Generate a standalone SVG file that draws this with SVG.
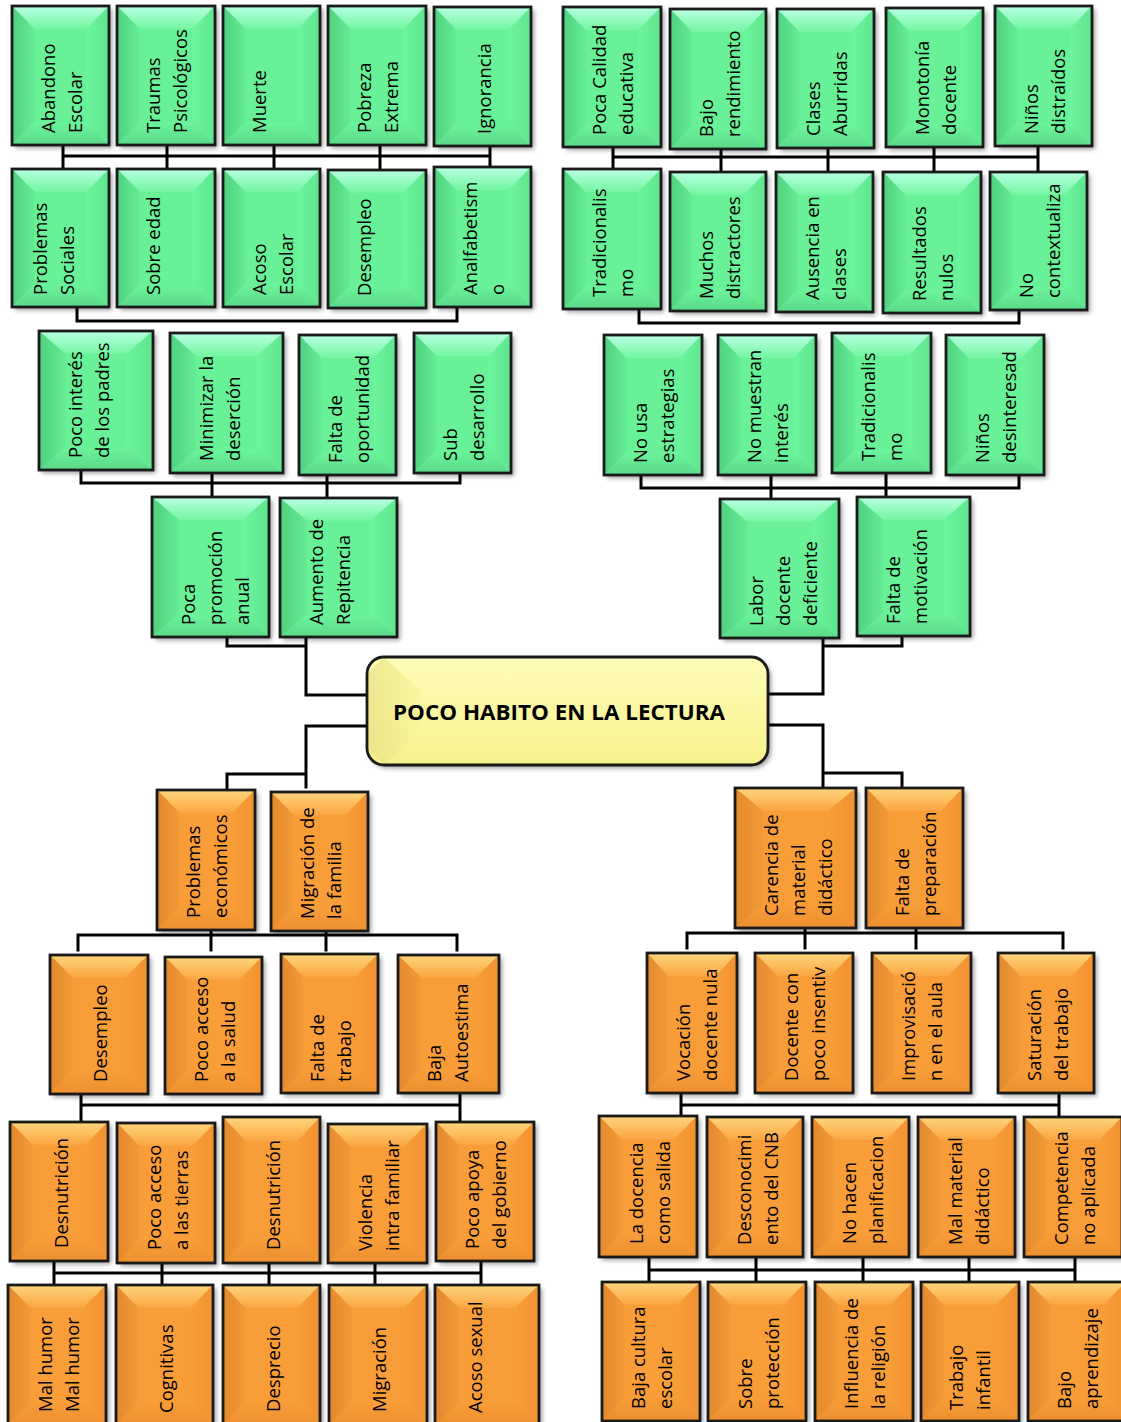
<svg xmlns="http://www.w3.org/2000/svg" xmlns:xlink="http://www.w3.org/1999/xlink" width="1121" height="1422" viewBox="0 0 1121 1422">
<defs>
<style>
.b{fill:none;stroke:#1a1a1a;stroke-width:2.8}
.t{font-family:"Open Sans","Liberation Sans",sans-serif;font-size:18.5px;fill:#000}
.c path{fill:none;stroke:#000;stroke-width:3;stroke-linecap:square}
.title{font-family:"Open Sans","Liberation Sans",sans-serif;font-size:21.5px;font-weight:bold;fill:#000}
</style>
<filter id="sh" x="-10%" y="-10%" width="130%" height="130%">
<feGaussianBlur in="SourceAlpha" stdDeviation="2.5"/>
<feOffset dx="3" dy="3" result="o"/>
<feComponentTransfer><feFuncA type="linear" slope="0.4"/></feComponentTransfer>
<feMerge><feMergeNode/><feMergeNode in="SourceGraphic"/></feMerge>
</filter>
<linearGradient id="gT" x1="0" y1="0" x2="0" y2="1"><stop offset="0" stop-color="#b8ffe2"/><stop offset="1" stop-color="#74f6a2"/></linearGradient>
<linearGradient id="gL" x1="0" y1="0" x2="1" y2="0"><stop offset="0" stop-color="#4fd07f"/><stop offset="1" stop-color="#64ec94"/></linearGradient>
<linearGradient id="gR" x1="0" y1="0" x2="1" y2="0"><stop offset="0" stop-color="#6cf59c"/><stop offset="1" stop-color="#5fe58e"/></linearGradient>
<linearGradient id="gB" x1="0" y1="0" x2="0" y2="1"><stop offset="0" stop-color="#6cf49b"/><stop offset="1" stop-color="#5ad989"/></linearGradient>
<linearGradient id="oT" x1="0" y1="0" x2="0" y2="1"><stop offset="0" stop-color="#ffd67c"/><stop offset="1" stop-color="#fba543"/></linearGradient>
<linearGradient id="oL" x1="0" y1="0" x2="1" y2="0"><stop offset="0" stop-color="#e2892d"/><stop offset="1" stop-color="#f39937"/></linearGradient>
<linearGradient id="oR" x1="0" y1="0" x2="1" y2="0"><stop offset="0" stop-color="#f99d38"/><stop offset="1" stop-color="#f0922f"/></linearGradient>
<linearGradient id="oB" x1="0" y1="0" x2="0" y2="1"><stop offset="0" stop-color="#f99d39"/><stop offset="1" stop-color="#ec8f2e"/></linearGradient>
<linearGradient id="yM" x1="0" y1="0" x2="0" y2="1"><stop offset="0" stop-color="#fffdb8"/><stop offset="1" stop-color="#f6f18c"/></linearGradient>
<linearGradient id="yL" x1="0" y1="0" x2="1" y2="0"><stop offset="0" stop-color="#e6e085"/><stop offset="1" stop-color="#f8f499"/></linearGradient>
<symbol id="gb" viewBox="0 0 100 140" preserveAspectRatio="none">
<rect width="100" height="140" fill="#68f197"/>
<polygon points="0,0 100,0 77,23 23,23" fill="url(#gT)"/>
<polygon points="0,0 23,23 23,117 0,140" fill="url(#gL)"/>
<polygon points="100,0 100,140 77,117 77,23" fill="url(#gR)"/>
<polygon points="0,140 100,140 77,117 23,117" fill="url(#gB)"/>
</symbol>
<symbol id="ob" viewBox="0 0 100 140" preserveAspectRatio="none">
<rect width="100" height="140" fill="#f99d38"/>
<polygon points="0,0 100,0 77,23 23,23" fill="url(#oT)"/>
<polygon points="0,0 23,23 23,117 0,140" fill="url(#oL)"/>
<polygon points="100,0 100,140 77,117 77,23" fill="url(#oR)"/>
<polygon points="0,140 100,140 77,117 23,117" fill="url(#oB)"/>
</symbol>
</defs>
<rect width="1121" height="1422" fill="#fff"/>

<g id="connectors" class="c">
<path d="M63,145V169M167,145V169M274,145V169M380,145V170M490,146V166M63,156H490"/>
<path d="M77,307V321H457V307"/>
<path d="M81,470V483H460V473M212,473V497M327,475V498"/>
<path d="M227,637V646H306M306,637V695H368"/>
<path d="M368,726H306V787M306,774H227V790"/>
<path d="M613,147V169M721,149V172M828,148V172M934,147V172M1038,146V172M613,157H1038"/>
<path d="M639,309V323H1019V310"/>
<path d="M641,475V488H1019V475M771,475V499M886,473V497"/>
<path d="M902,636V646H823M823,638V694H768"/>
<path d="M768,725H823V788M823,773H902V788"/>
<path d="M78,950V935H457V950M211,930V950M326,931V950"/>
<path d="M81,1094V1121M460,1093V1121M81,1105H460"/>
<path d="M54,1261V1285M162,1263V1285M269,1263V1285M375,1263V1285M481,1261V1285M54,1273H481"/>
<path d="M687,948V933H1063V948M805,928V948M916,928V948"/>
<path d="M681,1093V1115M1059,1093V1115M681,1105H1059"/>
<path d="M649,1257V1281M756,1257V1281M863,1257V1281M969,1257V1281M1075,1257V1281M649,1270H1075"/>
</g>

<g id="center">
<rect x="367" y="657" width="401" height="108" rx="17" fill="url(#yM)" filter="url(#sh)"/>
<path d="M384,657 L420,690 L420,732 L384,765 L367,748 L367,674 Z" fill="url(#yL)" opacity="0.7"/>
<rect x="367" y="657" width="401" height="108" rx="17" class="b"/>
<text class="title" x="393" y="720" textLength="332" lengthAdjust="spacingAndGlyphs">POCO HABITO EN LA LECTURA</text>
</g>

<g id="tl-abandono"><use href="#gb" x="12" y="6" width="97" height="139" filter="url(#sh)"/><rect x="12" y="6" width="97" height="139" class="b"/><text class="t" transform="translate(55,133) rotate(-90)"><tspan x="0" y="0">Abandono</tspan><tspan x="0" y="27">Escolar</tspan></text></g>
<g id="tl-traumas"><use href="#gb" x="117" y="6" width="98" height="139" filter="url(#sh)"/><rect x="117" y="6" width="98" height="139" class="b"/><text class="t" transform="translate(160,133) rotate(-90)"><tspan x="0" y="0">Traumas</tspan><tspan x="0" y="27">Psicológicos</tspan></text></g>
<g id="tl-muerte"><use href="#gb" x="223" y="6" width="97" height="139" filter="url(#sh)"/><rect x="223" y="6" width="97" height="139" class="b"/><text class="t" transform="translate(266,133) rotate(-90)">Muerte</text></g>
<g id="tl-pobreza"><use href="#gb" x="328" y="6" width="98" height="139" filter="url(#sh)"/><rect x="328" y="6" width="98" height="139" class="b"/><text class="t" transform="translate(371,133) rotate(-90)"><tspan x="0" y="0">Pobreza</tspan><tspan x="0" y="27">Extrema</tspan></text></g>
<g id="tl-ignorancia"><use href="#gb" x="434" y="7" width="97" height="139" filter="url(#sh)"/><rect x="434" y="7" width="97" height="139" class="b"/><text class="t" transform="translate(491,134) rotate(-90)">Ignorancia</text></g>
<g id="tl-problemas"><use href="#gb" x="12" y="169" width="97" height="138" filter="url(#sh)"/><rect x="12" y="169" width="97" height="138" class="b"/><text class="t" transform="translate(47,295) rotate(-90)"><tspan x="0" y="0">Problemas</tspan><tspan x="0" y="27">Sociales</tspan></text></g>
<g id="tl-sobreedad"><use href="#gb" x="117" y="169" width="98" height="138" filter="url(#sh)"/><rect x="117" y="169" width="98" height="138" class="b"/><text class="t" transform="translate(160,295) rotate(-90)">Sobre edad</text></g>
<g id="tl-acoso"><use href="#gb" x="223" y="169" width="97" height="138" filter="url(#sh)"/><rect x="223" y="169" width="97" height="138" class="b"/><text class="t" transform="translate(266,295) rotate(-90)"><tspan x="0" y="0">Acoso</tspan><tspan x="0" y="27">Escolar</tspan></text></g>
<g id="tl-desempleo"><use href="#gb" x="328" y="170" width="98" height="138" filter="url(#sh)"/><rect x="328" y="170" width="98" height="138" class="b"/><text class="t" transform="translate(371,296) rotate(-90)">Desempleo</text></g>
<g id="tl-analfabetismo"><use href="#gb" x="434" y="167" width="97" height="140" filter="url(#sh)"/><rect x="434" y="167" width="97" height="140" class="b"/><text class="t" transform="translate(477,295) rotate(-90)"><tspan x="0" y="0">Analfabetism</tspan><tspan x="0" y="27">o</tspan></text></g>
<g id="tl-pocointeres"><use href="#gb" x="39" y="331" width="114" height="139" filter="url(#sh)"/><rect x="39" y="331" width="114" height="139" class="b"/><text class="t" transform="translate(82,458) rotate(-90)"><tspan x="0" y="0">Poco interés</tspan><tspan x="0" y="27">de los padres</tspan></text></g>
<g id="tl-minimizar"><use href="#gb" x="170" y="333" width="113" height="140" filter="url(#sh)"/><rect x="170" y="333" width="113" height="140" class="b"/><text class="t" transform="translate(213,461) rotate(-90)"><tspan x="0" y="0">Minimizar la</tspan><tspan x="0" y="27">deserción</tspan></text></g>
<g id="tl-faltaoport"><use href="#gb" x="299" y="335" width="97" height="140" filter="url(#sh)"/><rect x="299" y="335" width="97" height="140" class="b"/><text class="t" transform="translate(342,463) rotate(-90)"><tspan x="0" y="0">Falta de</tspan><tspan x="0" y="27">oportunidad</tspan></text></g>
<g id="tl-subdesarrollo"><use href="#gb" x="414" y="333" width="97" height="140" filter="url(#sh)"/><rect x="414" y="333" width="97" height="140" class="b"/><text class="t" transform="translate(457,461) rotate(-90)"><tspan x="0" y="0">Sub</tspan><tspan x="0" y="27">desarrollo</tspan></text></g>
<g id="tl-pocapromocion"><use href="#gb" x="152" y="497" width="117" height="140" filter="url(#sh)"/><rect x="152" y="497" width="117" height="140" class="b"/><text class="t" transform="translate(195,625) rotate(-90)"><tspan x="0" y="0">Poca</tspan><tspan x="0" y="27">promoción</tspan><tspan x="0" y="54">anual</tspan></text></g>
<g id="tl-aumento"><use href="#gb" x="280" y="498" width="117" height="139" filter="url(#sh)"/><rect x="280" y="498" width="117" height="139" class="b"/><text class="t" transform="translate(323,625) rotate(-90)"><tspan x="0" y="0">Aumento de</tspan><tspan x="0" y="27">Repitencia</tspan></text></g>

<g id="tr-pocacalidad"><use href="#gb" x="563" y="7" width="98" height="140" filter="url(#sh)"/><rect x="563" y="7" width="98" height="140" class="b"/><text class="t" transform="translate(606,135) rotate(-90)"><tspan x="0" y="0">Poca Calidad</tspan><tspan x="0" y="27">educativa</tspan></text></g>
<g id="tr-bajorend"><use href="#gb" x="670" y="9" width="96" height="140" filter="url(#sh)"/><rect x="670" y="9" width="96" height="140" class="b"/><text class="t" transform="translate(713,137) rotate(-90)"><tspan x="0" y="0">Bajo</tspan><tspan x="0" y="27">rendimiento</tspan></text></g>
<g id="tr-clases"><use href="#gb" x="777" y="9" width="97" height="139" filter="url(#sh)"/><rect x="777" y="9" width="97" height="139" class="b"/><text class="t" transform="translate(820,136) rotate(-90)"><tspan x="0" y="0">Clases</tspan><tspan x="0" y="27">Aburridas</tspan></text></g>
<g id="tr-monotonia"><use href="#gb" x="886" y="8" width="97" height="139" filter="url(#sh)"/><rect x="886" y="8" width="97" height="139" class="b"/><text class="t" transform="translate(929,135) rotate(-90)"><tspan x="0" y="0">Monotonía</tspan><tspan x="0" y="27">docente</tspan></text></g>
<g id="tr-ninosdistraidos"><use href="#gb" x="995" y="6" width="97" height="140" filter="url(#sh)"/><rect x="995" y="6" width="97" height="140" class="b"/><text class="t" transform="translate(1038,134) rotate(-90)"><tspan x="0" y="0">Niños</tspan><tspan x="0" y="27">distraídos</tspan></text></g>
<g id="tr-tradicionalismo1"><use href="#gb" x="563" y="169" width="98" height="140" filter="url(#sh)"/><rect x="563" y="169" width="98" height="140" class="b"/><text class="t" transform="translate(606,297) rotate(-90)"><tspan x="0" y="0">Tradicionalis</tspan><tspan x="0" y="27">mo</tspan></text></g>
<g id="tr-muchos"><use href="#gb" x="670" y="172" width="96" height="139" filter="url(#sh)"/><rect x="670" y="172" width="96" height="139" class="b"/><text class="t" transform="translate(713,299) rotate(-90)"><tspan x="0" y="0">Muchos</tspan><tspan x="0" y="27">distractores</tspan></text></g>
<g id="tr-ausencia"><use href="#gb" x="776" y="172" width="97" height="140" filter="url(#sh)"/><rect x="776" y="172" width="97" height="140" class="b"/><text class="t" transform="translate(819,300) rotate(-90)"><tspan x="0" y="0">Ausencia en</tspan><tspan x="0" y="27">clases</tspan></text></g>
<g id="tr-resultados"><use href="#gb" x="883" y="172" width="98" height="141" filter="url(#sh)"/><rect x="883" y="172" width="98" height="141" class="b"/><text class="t" transform="translate(926,301) rotate(-90)"><tspan x="0" y="0">Resultados</tspan><tspan x="0" y="27">nulos</tspan></text></g>
<g id="tr-nocontext"><use href="#gb" x="990" y="172" width="97" height="138" filter="url(#sh)"/><rect x="990" y="172" width="97" height="138" class="b"/><text class="t" transform="translate(1033,298) rotate(-90)"><tspan x="0" y="0">No</tspan><tspan x="0" y="27">contextualiza</tspan></text></g>
<g id="tr-nousa"><use href="#gb" x="604" y="335" width="98" height="140" filter="url(#sh)"/><rect x="604" y="335" width="98" height="140" class="b"/><text class="t" transform="translate(647,463) rotate(-90)"><tspan x="0" y="0">No usa</tspan><tspan x="0" y="27">estrategias</tspan></text></g>
<g id="tr-nomuestran"><use href="#gb" x="718" y="335" width="98" height="140" filter="url(#sh)"/><rect x="718" y="335" width="98" height="140" class="b"/><text class="t" transform="translate(761,463) rotate(-90)"><tspan x="0" y="0">No muestran</tspan><tspan x="0" y="27">interés</tspan></text></g>
<g id="tr-tradicionalismo2"><use href="#gb" x="832" y="333" width="99" height="140" filter="url(#sh)"/><rect x="832" y="333" width="99" height="140" class="b"/><text class="t" transform="translate(875,461) rotate(-90)"><tspan x="0" y="0">Tradicionalis</tspan><tspan x="0" y="27">mo</tspan></text></g>
<g id="tr-ninosdesint"><use href="#gb" x="946" y="335" width="98" height="140" filter="url(#sh)"/><rect x="946" y="335" width="98" height="140" class="b"/><text class="t" transform="translate(989,463) rotate(-90)"><tspan x="0" y="0">Niños</tspan><tspan x="0" y="27">desinteresad</tspan></text></g>
<g id="tr-labor"><use href="#gb" x="720" y="499" width="119" height="139" filter="url(#sh)"/><rect x="720" y="499" width="119" height="139" class="b"/><text class="t" transform="translate(763,626) rotate(-90)"><tspan x="0" y="0">Labor</tspan><tspan x="0" y="27">docente</tspan><tspan x="0" y="54">deficiente</tspan></text></g>
<g id="tr-faltamotiv"><use href="#gb" x="857" y="497" width="113" height="139" filter="url(#sh)"/><rect x="857" y="497" width="113" height="139" class="b"/><text class="t" transform="translate(900,624) rotate(-90)"><tspan x="0" y="0">Falta de</tspan><tspan x="0" y="27">motivación</tspan></text></g>

<g id="bl-problemaseco"><use href="#ob" x="157" y="790" width="98" height="140" filter="url(#sh)"/><rect x="157" y="790" width="98" height="140" class="b"/><text class="t" transform="translate(200,918) rotate(-90)"><tspan x="0" y="0">Problemas</tspan><tspan x="0" y="27">económicos</tspan></text></g>
<g id="bl-migracionfam"><use href="#ob" x="271" y="792" width="97" height="139" filter="url(#sh)"/><rect x="271" y="792" width="97" height="139" class="b"/><text class="t" transform="translate(314,919) rotate(-90)"><tspan x="0" y="0">Migración de</tspan><tspan x="0" y="27">la familia</tspan></text></g>
<g id="bl-desempleo"><use href="#ob" x="50" y="955" width="98" height="139" filter="url(#sh)"/><rect x="50" y="955" width="98" height="139" class="b"/><text class="t" transform="translate(107,1082) rotate(-90)">Desempleo</text></g>
<g id="bl-pocoaccesosalud"><use href="#ob" x="165" y="957" width="97" height="137" filter="url(#sh)"/><rect x="165" y="957" width="97" height="137" class="b"/><text class="t" transform="translate(208,1082) rotate(-90)"><tspan x="0" y="0">Poco acceso</tspan><tspan x="0" y="27">a la salud</tspan></text></g>
<g id="bl-faltatrabajo"><use href="#ob" x="281" y="954" width="97" height="139" filter="url(#sh)"/><rect x="281" y="954" width="97" height="139" class="b"/><text class="t" transform="translate(324,1082) rotate(-90)"><tspan x="0" y="0">Falta de</tspan><tspan x="0" y="27">trabajo</tspan></text></g>
<g id="bl-bajaauto"><use href="#ob" x="398" y="955" width="101" height="138" filter="url(#sh)"/><rect x="398" y="955" width="101" height="138" class="b"/><text class="t" transform="translate(441,1082) rotate(-90)"><tspan x="0" y="0">Baja</tspan><tspan x="0" y="27">Autoestima</tspan></text></g>
<g id="bl-desnutricion1"><use href="#ob" x="10" y="1122" width="98" height="139" filter="url(#sh)"/><rect x="10" y="1122" width="98" height="139" class="b"/><text class="t" transform="translate(68,1248) rotate(-90)">Desnutrición</text></g>
<g id="bl-pocoaccesotierras"><use href="#ob" x="117" y="1123" width="98" height="140" filter="url(#sh)"/><rect x="117" y="1123" width="98" height="140" class="b"/><text class="t" transform="translate(161,1250) rotate(-90)"><tspan x="0" y="0">Poco acceso</tspan><tspan x="0" y="27">a las tierras</tspan></text></g>
<g id="bl-desnutricion2"><use href="#ob" x="223" y="1117" width="97" height="146" filter="url(#sh)"/><rect x="223" y="1117" width="97" height="146" class="b"/><text class="t" transform="translate(280,1250) rotate(-90)">Desnutrición</text></g>
<g id="bl-violencia"><use href="#ob" x="328" y="1124" width="99" height="139" filter="url(#sh)"/><rect x="328" y="1124" width="99" height="139" class="b"/><text class="t" transform="translate(372,1251) rotate(-90)"><tspan x="0" y="0">Violencia</tspan><tspan x="0" y="27">intra familiar</tspan></text></g>
<g id="bl-pocoapoya"><use href="#ob" x="436" y="1122" width="98" height="139" filter="url(#sh)"/><rect x="436" y="1122" width="98" height="139" class="b"/><text class="t" transform="translate(479,1249) rotate(-90)"><tspan x="0" y="0">Poco apoya</tspan><tspan x="0" y="27">del gobierno</tspan></text></g>
<g id="bl-malhumor"><use href="#ob" x="8" y="1285" width="98" height="140" filter="url(#sh)"/><rect x="8" y="1285" width="98" height="140" class="b"/><text class="t" transform="translate(52,1412) rotate(-90)"><tspan x="0" y="0">Mal humor</tspan><tspan x="0" y="27">Mal humor</tspan></text></g>
<g id="bl-cognitivas"><use href="#ob" x="116" y="1285" width="97" height="140" filter="url(#sh)"/><rect x="116" y="1285" width="97" height="140" class="b"/><text class="t" transform="translate(173,1413) rotate(-90)">Cognitivas</text></g>
<g id="bl-desprecio"><use href="#ob" x="223" y="1285" width="97" height="140" filter="url(#sh)"/><rect x="223" y="1285" width="97" height="140" class="b"/><text class="t" transform="translate(280,1412) rotate(-90)">Desprecio</text></g>
<g id="bl-migracion"><use href="#ob" x="329" y="1285" width="98" height="140" filter="url(#sh)"/><rect x="329" y="1285" width="98" height="140" class="b"/><text class="t" transform="translate(386,1412) rotate(-90)">Migración</text></g>
<g id="bl-acososexual"><use href="#ob" x="435" y="1285" width="104" height="140" filter="url(#sh)"/><rect x="435" y="1285" width="104" height="140" class="b"/><text class="t" transform="translate(482,1413) rotate(-90)">Acoso sexual</text></g>

<g id="br-carencia"><use href="#ob" x="735" y="788" width="121" height="140" filter="url(#sh)"/><rect x="735" y="788" width="121" height="140" class="b"/><text class="t" transform="translate(778,916) rotate(-90)"><tspan x="0" y="0">Carencia de</tspan><tspan x="0" y="27">material</tspan><tspan x="0" y="54">didáctico</tspan></text></g>
<g id="br-faltaprep"><use href="#ob" x="866" y="788" width="97" height="140" filter="url(#sh)"/><rect x="866" y="788" width="97" height="140" class="b"/><text class="t" transform="translate(909,916) rotate(-90)"><tspan x="0" y="0">Falta de</tspan><tspan x="0" y="27">preparación</tspan></text></g>
<g id="br-vocacion"><use href="#ob" x="647" y="953" width="90" height="140" filter="url(#sh)"/><rect x="647" y="953" width="90" height="140" class="b"/><text class="t" transform="translate(690,1081) rotate(-90)"><tspan x="0" y="0">Vocación</tspan><tspan x="0" y="27">docente nula</tspan></text></g>
<g id="br-docentecon"><use href="#ob" x="755" y="953" width="98" height="140" filter="url(#sh)"/><rect x="755" y="953" width="98" height="140" class="b"/><text class="t" transform="translate(798,1081) rotate(-90)"><tspan x="0" y="0">Docente con</tspan><tspan x="0" y="27">poco insentiv</tspan></text></g>
<g id="br-improvisacion"><use href="#ob" x="872" y="953" width="99" height="140" filter="url(#sh)"/><rect x="872" y="953" width="99" height="140" class="b"/><text class="t" transform="translate(915,1081) rotate(-90)"><tspan x="0" y="0">Improvisació</tspan><tspan x="0" y="27">n en el aula</tspan></text></g>
<g id="br-saturacion"><use href="#ob" x="998" y="953" width="96" height="140" filter="url(#sh)"/><rect x="998" y="953" width="96" height="140" class="b"/><text class="t" transform="translate(1041,1081) rotate(-90)"><tspan x="0" y="0">Saturación</tspan><tspan x="0" y="27">del trabajo</tspan></text></g>
<g id="br-ladocencia"><use href="#ob" x="599" y="1116" width="98" height="141" filter="url(#sh)"/><rect x="599" y="1116" width="98" height="141" class="b"/><text class="t" transform="translate(643,1244) rotate(-90)"><tspan x="0" y="0">La docencia</tspan><tspan x="0" y="27">como salida</tspan></text></g>
<g id="br-desconocimiento"><use href="#ob" x="707" y="1117" width="96" height="140" filter="url(#sh)"/><rect x="707" y="1117" width="96" height="140" class="b"/><text class="t" transform="translate(751,1245) rotate(-90)"><tspan x="0" y="0">Desconocimi</tspan><tspan x="0" y="27">ento del CNB</tspan></text></g>
<g id="br-nohacen"><use href="#ob" x="812" y="1117" width="97" height="140" filter="url(#sh)"/><rect x="812" y="1117" width="97" height="140" class="b"/><text class="t" transform="translate(856,1244) rotate(-90)"><tspan x="0" y="0">No hacen</tspan><tspan x="0" y="27">planificacion</tspan></text></g>
<g id="br-malmaterial"><use href="#ob" x="918" y="1117" width="97" height="140" filter="url(#sh)"/><rect x="918" y="1117" width="97" height="140" class="b"/><text class="t" transform="translate(962,1245) rotate(-90)"><tspan x="0" y="0">Mal material</tspan><tspan x="0" y="27">didáctico</tspan></text></g>
<g id="br-competencia"><use href="#ob" x="1024" y="1117" width="98" height="140" filter="url(#sh)"/><rect x="1024" y="1117" width="98" height="140" class="b"/><text class="t" transform="translate(1068,1245) rotate(-90)"><tspan x="0" y="0">Competencia</tspan><tspan x="0" y="27">no aplicada</tspan></text></g>
<g id="br-bajacultura"><use href="#ob" x="602" y="1282" width="98" height="139" filter="url(#sh)"/><rect x="602" y="1282" width="98" height="139" class="b"/><text class="t" transform="translate(645,1409) rotate(-90)"><tspan x="0" y="0">Baja cultura</tspan><tspan x="0" y="27">escolar</tspan></text></g>
<g id="br-sobreproteccion"><use href="#ob" x="708" y="1282" width="98" height="139" filter="url(#sh)"/><rect x="708" y="1282" width="98" height="139" class="b"/><text class="t" transform="translate(752,1409) rotate(-90)"><tspan x="0" y="0">Sobre</tspan><tspan x="0" y="27">protección</tspan></text></g>
<g id="br-influencia"><use href="#ob" x="815" y="1282" width="98" height="139" filter="url(#sh)"/><rect x="815" y="1282" width="98" height="139" class="b"/><text class="t" transform="translate(858,1409) rotate(-90)"><tspan x="0" y="0">Influencia de</tspan><tspan x="0" y="27">la religión</tspan></text></g>
<g id="br-trabajoinfantil"><use href="#ob" x="921" y="1282" width="98" height="139" filter="url(#sh)"/><rect x="921" y="1282" width="98" height="139" class="b"/><text class="t" transform="translate(963,1410) rotate(-90)"><tspan x="0" y="0">Trabajo</tspan><tspan x="0" y="27">infantil</tspan></text></g>
<g id="br-bajoaprendizaje"><use href="#ob" x="1028" y="1282" width="98" height="139" filter="url(#sh)"/><rect x="1028" y="1282" width="98" height="139" class="b"/><text class="t" transform="translate(1071,1409) rotate(-90)"><tspan x="0" y="0">Bajo</tspan><tspan x="0" y="27">aprendizaje</tspan></text></g>
</svg>
